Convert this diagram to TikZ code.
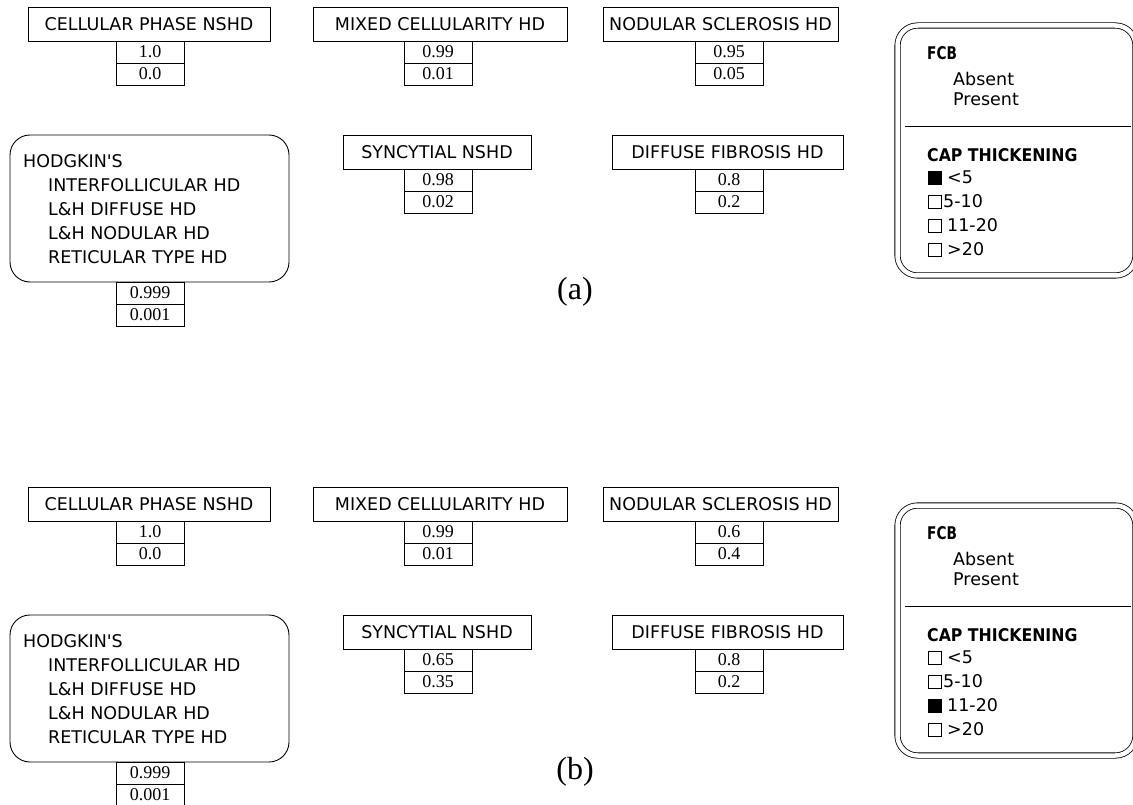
\documentclass[tikz,border=0pt]{standalone}
\usepackage{fontspec}
\setmainfont{Liberation Serif}
\newfontfamily\lblfont{DejaVu Sans}
\newcommand\bnvar[8]{% name, cx, cy, width, label, px, p1, p2
  \node[lbl, minimum width=#4pt] (#1) at (#2,#3) {#5};
  \node[pbox] (#1a) at (#6,#3+28) {#7};
  \node[pbox] (#1b) at (#6,#3+50) {#8};
}
\newcommand\drawpanel[8]{% prefix, yoffset, ns1, ns2, sy1, sy2, filled row, caption
\def\fA{white}\def\fB{white}\def\fC{white}\def\fD{white}%
\ifnum#7=1 \def\fA{black}\fi
\ifnum#7=3 \def\fC{black}\fi
\begin{scope}[shift={(0,#2)}]
  \bnvar{#1cp}{149}{24}{242}{CELLULAR PHASE NSHD}{150}{1.0}{0.0}
  \bnvar{#1mc}{440}{24}{254}{MIXED CELLULARITY HD}{438}{0.99}{0.01}
  \bnvar{#1ns}{720.5}{24}{235}{NODULAR SCLEROSIS HD}{729}{#3}{#4}
  \bnvar{#1sy}{437}{152}{188}{SYNCYTIAL NSHD}{438}{#5}{#6}
  \bnvar{#1df}{727.5}{152}{231}{DIFFUSE FIBROSIS HD}{729}{0.8}{0.2}
  \node[hbox] (#1hk) at (149.5,208.5) {};
  \node[ltxt] (#1hk0) at (23,161) {HODGKIN'S};
  \node[ltxt] (#1hk1) at (48,185) {INTERFOLLICULAR HD};
  \node[ltxt] (#1hk2) at (48,209) {L\&H DIFFUSE HD};
  \node[ltxt] (#1hk3) at (48,233) {L\&H NODULAR HD};
  \node[ltxt] (#1hk4) at (48,257) {RETICULAR TYPE HD};
  \node[pbox] (#1hka) at (150,293) {0.999};
  \node[pbox] (#1hkb) at (150,315) {0.001};
  \node (#1cap) at (575,292) {\fontsize{32}{36}\selectfont(#8)};
  % right panel
  \node[panel] (#1pn) at (1016.5,150.5) {};
  \draw[thinline] (905,126) -- (1131,126);
  \node[btxt] (#1fcb) at (927,53) {\scalebox{0.78}[1]{FCB}};
  \node[ltxt] (#1abs) at (953,79) {Absent};
  \node[ltxt] (#1pre) at (953,99) {Present};
  \node[btxt] (#1cap2) at (927,155) {\scalebox{0.9}[1]{CAP THICKENING}};
  \node[chk, fill=\fA] (#1c1) at (935,178) {};
  \node[chk, fill=\fB] (#1c2) at (935,202) {};
  \node[chk, fill=\fC] (#1c3) at (935,226) {};
  \node[chk, fill=\fD] (#1c4) at (935,250) {};
  \node[ltxt] (#1t1) at (947,177) {<5};
  \node[ltxt] (#1t2) at (943,201) {5-10};
  \node[ltxt] (#1t3) at (947,225) {11-20};
  \node[ltxt] (#1t4) at (947,249) {>20};
\end{scope}}
\begin{document}
\begin{tikzpicture}[x=1pt,y=-1pt,
  lbl/.style={draw, line width=0.9pt, rectangle, minimum height=34pt, inner sep=0pt,
    font=\lblfont\fontsize{17.5}{20}\selectfont},
  pbox/.style={draw, line width=0.9pt, minimum width=68pt, minimum height=22pt, inner sep=0pt,
    font=\fontsize{18}{20}\selectfont},
  hbox/.style={draw, line width=0.9pt, rounded corners=20pt, minimum width=279pt, minimum height=147pt, inner sep=0pt},
  ltxt/.style={anchor=west, inner sep=0pt, font=\lblfont\fontsize{17.5}{20}\selectfont},
  btxt/.style={anchor=west, inner sep=0pt, font=\lblfont\bfseries\fontsize{17.5}{20}\selectfont},
  panel/.style={draw, line width=0.8pt, double, double distance=4.5pt, rounded corners=20pt,
    minimum width=238pt, minimum height=250pt, inner sep=0pt},
  thinline/.style={line width=0.8pt},
  chk/.style={draw, line width=0.6pt, minimum size=13pt, inner sep=0pt},
]
\clip (0,0) rectangle (1133,805);
\fill[white] (0,0) rectangle (1133,805);
\drawpanel{A}{0}{0.95}{0.05}{0.98}{0.02}{1}{a}
\drawpanel{B}{480}{0.6}{0.4}{0.65}{0.35}{3}{b}
\end{tikzpicture}
\end{document}
